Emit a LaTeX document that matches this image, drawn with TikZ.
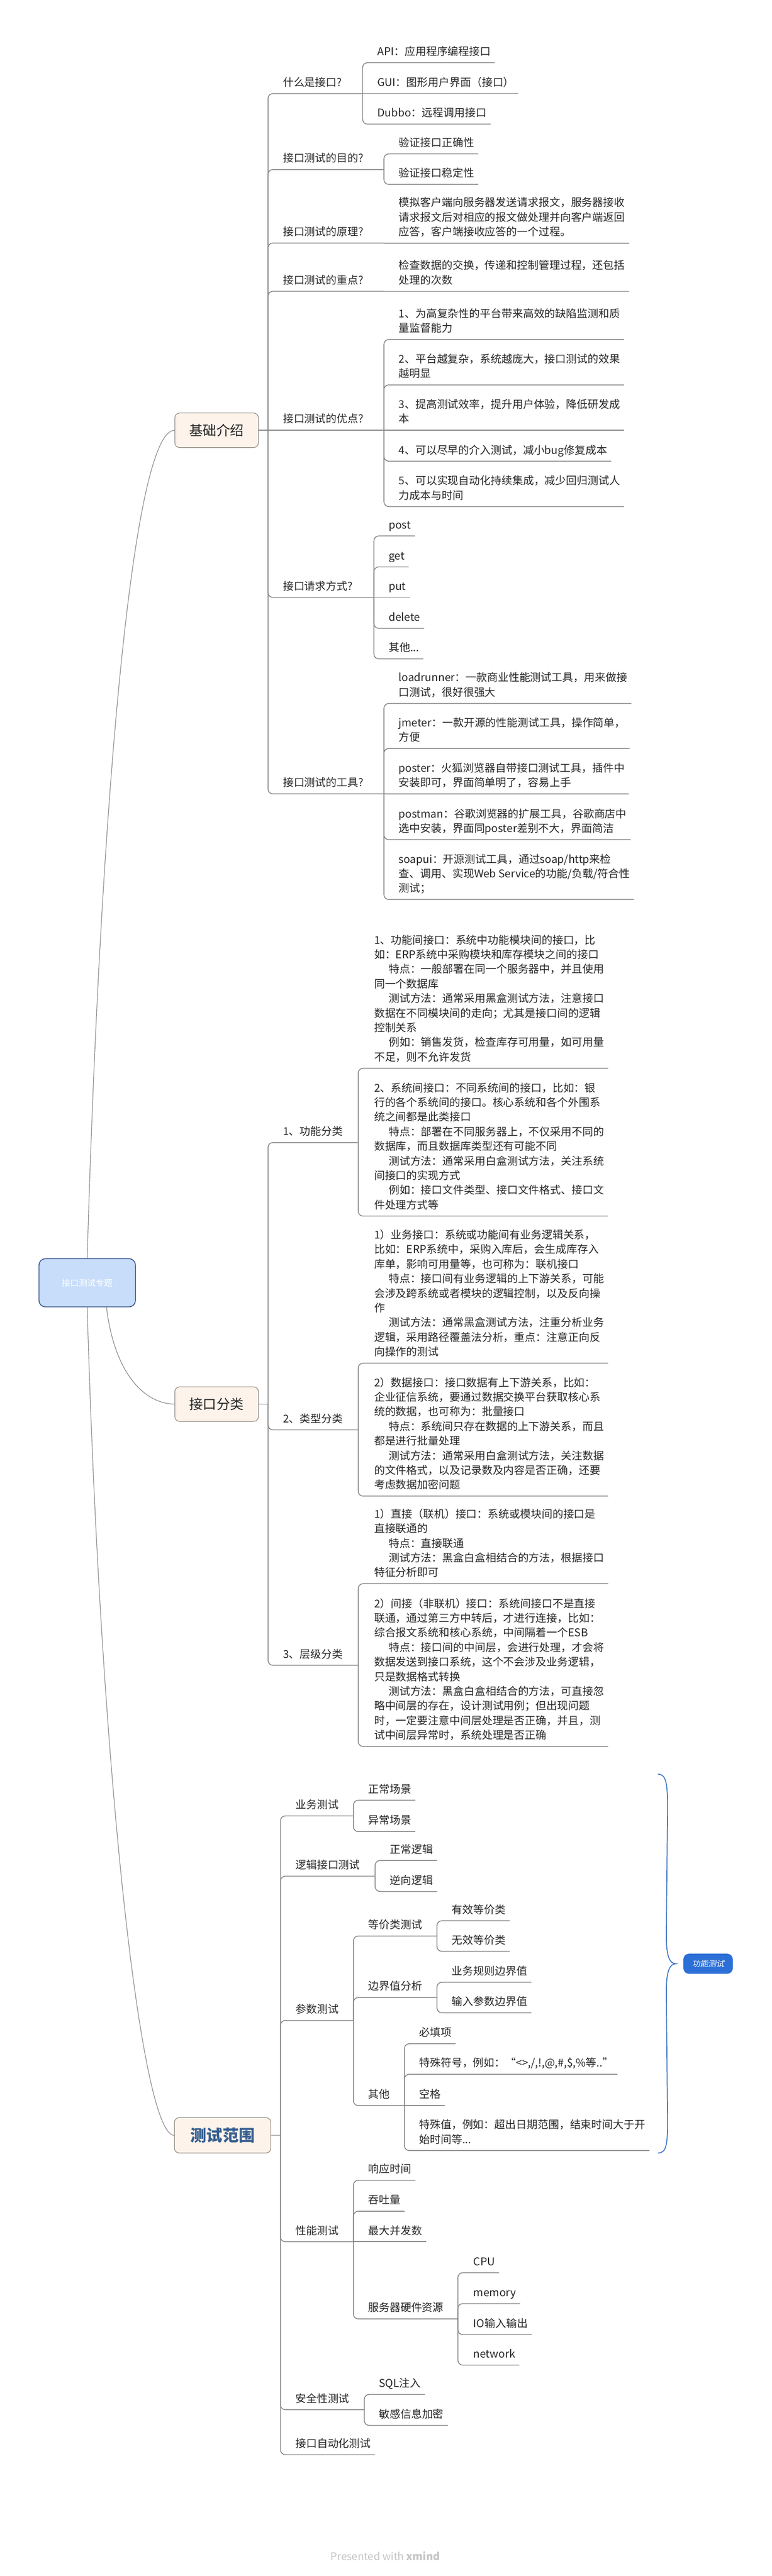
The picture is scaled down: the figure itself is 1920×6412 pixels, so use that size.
\documentclass[tikz,border=0pt]{standalone}
\usepackage{fontspec}
\setmainfont{Noto Sans CJK SC}
\newfontfamily\slantfont[FakeSlant=0.2]{Noto Sans CJK SC}
\usetikzlibrary{calc}
\definecolor{boxfill}{HTML}{FDF3EA}
\definecolor{boxline}{HTML}{8C8580}
\definecolor{rootfill}{HTML}{C7DDFA}
\definecolor{rootline}{HTML}{34518C}
\definecolor{funcblue}{HTML}{2C6FD6}
\definecolor{braceblue}{HTML}{3A72C4}
\definecolor{scopeblue}{HTML}{355E90}
\definecolor{linegray}{HTML}{858585}
\definecolor{textgray}{HTML}{262626}
\definecolor{footgray}{HTML}{C4C4C4}
\newcommand{\indentsp}{\hspace*{36pt}}
\newcommand{\topicsize}{\fontsize{26.8pt}{36.4pt}\selectfont}
\newcommand{\boxsize}{\fontsize{34pt}{40pt}\selectfont}
\tikzstyle{topic}=[anchor=south west, inner xsep=10pt, inner ysep=0pt, text depth=18pt, align=left, font=\topicsize, text=textgray]
\tikzstyle{mainbox}=[draw=boxline, fill=boxfill, line width=1.5pt, rounded corners=12pt, minimum width=208pt, minimum height=86pt, font=\boxsize, text=textgray]
\tikzstyle{rootbox}=[draw=rootline, fill=rootfill, line width=2pt, rounded corners=16pt, minimum width=240pt, minimum height=120pt, font=\fontsize{21pt}{24pt}\selectfont, text=white]
\tikzstyle{funcbox}=[fill=funcblue, rounded corners=14pt, minimum width=123pt, minimum height=50pt, font=\slantfont\fontsize{20pt}{24pt}\selectfont, text=white]
\tikzstyle{branch}=[draw=linegray, line width=2pt, rounded corners=12pt]
\tikzstyle{curve}=[draw=linegray, line width=1.5pt]
\tikzstyle{brace}=[draw=braceblue, line width=2.2pt]

\begin{document}
\begin{tikzpicture}[x=1pt, y=-1pt]
  \useasboundingbox (0,0) rectangle (1920,6412);

  \node[rootbox] (root) at (217,3193) {接口测试专题};
  \node[mainbox] (basic) at (539,1071) {基础介绍};
  \node[mainbox] (cls) at (539,3495) {接口分类};
  \node[mainbox, minimum width=240pt, minimum height=88pt, font=\fontsize{40pt}{44pt}\selectfont\bfseries, text=scopeblue] (scope) at (554,5315) {测试范围};
  \node[funcbox] (func) at (1762,4888) {功能测试};

  \coordinate (bb) at (667,1071);
  \coordinate (cb) at (667,3495);
  \coordinate (sb) at (698,5315);

  % basic
  \node[topic, text width=188pt] (q1) at (694,233) {什么是接口?};
  \node[topic, text width=241pt] (q2) at (694,422) {接口测试的目的?};
  \node[topic, text width=241pt] (q3) at (694,605) {接口测试的原理?};
  \node[topic, text width=241pt] (q4) at (694,725) {接口测试的重点?};
  \node[topic, text width=241pt] (q5) at (694,1071) {接口测试的优点?};
  \node[topic, text width=216pt] (q6) at (694,1487) {接口请求方式?};
  \node[topic, text width=241pt] (q7) at (694,1976) {接口测试的工具?};

  \node[topic] (api) at (929,156) {API：应用程序编程接口};
  \node[topic] (gui) at (929,233) {GUI：图形用户界面（接口）};
  \node[topic] (dubbo) at (929,309) {Dubbo：远程调用接口};
  \node[topic] (ok1) at (982,383) {验证接口正确性};
  \node[topic] (ok2) at (982,459) {验证接口稳定性};
  \node[topic] (theory) at (982,605) {模拟客户端向服务器发送请求报文，服务器接收\\请求报文后对相应的报文做处理并向客户端返回\\应答，客户端接收应答的一个过程。};
  \node[topic] (focus) at (982,725) {检查数据的交换，传递和控制管理过程，还包括\\处理的次数};
  \node[topic] (adv1) at (982,845) {1、为高复杂性的平台带来高效的缺陷监测和质\\量监督能力};
  \node[topic] (adv2) at (982,958) {2、平台越复杂，系统越庞大，接口测试的效果\\越明显};
  \node[topic] (adv3) at (982,1071) {3、提高测试效率，提升用户体验，降低研发成\\本};
  \node[topic] (adv4) at (982,1148) {4、可以尽早的介入测试，减小bug修复成本};
  \node[topic] (adv5) at (982,1261) {5、可以实现自动化持续集成，减少回归测试人\\力成本与时间};
  \node[topic] (post) at (957,1334) {post};
  \node[topic] (get) at (957,1411) {get};
  \node[topic] (put) at (957,1487) {put};
  \node[topic] (del) at (957,1564) {delete};
  \node[topic] (etc) at (957,1640) {其他...};
  \node[topic] (tool1) at (982,1751) {loadrunner：一款商业性能测试工具，用来做接\\口测试，很好很强大};
  \node[topic] (tool2) at (982,1863) {jmeter：一款开源的性能测试工具，操作简单，\\方便};
  \node[topic] (tool3) at (982,1976) {poster：火狐浏览器自带接口测试工具，插件中\\安装即可，界面简单明了，容易上手};
  \node[topic] (tool4) at (982,2090) {postman：谷歌浏览器的扩展工具，谷歌商店中\\选中安装，界面同poster差别不大，界面简洁};
  \node[topic] (tool5) at (982,2239) {soapui：开源测试工具，通过soap/http来检\\查、调用、实现Web Service的功能/负载/符合性\\测试；};

  % cls
  \node[topic, text width=177pt] (c1) at (694,2844) {1、功能分类};
  \node[topic, text width=177pt] (c2) at (694,3559) {2、类型分类};
  \node[topic, text width=177pt] (c3) at (694,4145) {3、层级分类};

  \node[topic] (f1) at (921,2659) {1、功能间接口：系统中功能模块间的接口，比\\如：ERP系统中采购模块和库存模块之间的接口\\\indentsp 特点：一般部署在同一个服务器中，并且使用\\同一个数据库\\\indentsp 测试方法：通常采用黑盒测试方法，注意接口\\数据在不同模块间的走向；尤其是接口间的逻辑\\控制关系\\\indentsp 例如：销售发货，检查库存可用量，如可用量\\不足，则不允许发货};
  \node[topic] (f2) at (921,3027) {2、系统间接口：不同系统间的接口，比如：银\\行的各个系统间的接口。核心系统和各个外围系\\统之间都是此类接口\\\indentsp 特点：部署在不同服务器上，不仅采用不同的\\数据库，而且数据库类型还有可能不同\\\indentsp 测试方法：通常采用白盒测试方法，关注系统\\间接口的实现方式\\\indentsp 例如：接口文件类型、接口文件格式、接口文\\件处理方式等};
  \node[topic] (t1) at (921,3393) {1）业务接口：系统或功能间有业务逻辑关系，\\比如：ERP系统中，采购入库后，会生成库存入\\库单，影响可用量等，也可称为：联机接口\\\indentsp 特点：接口间有业务逻辑的上下游关系，可能\\会涉及跨系统或者模块的逻辑控制，以及反向操\\作\\\indentsp 测试方法：通常黑盒测试方法，注重分析业务\\逻辑，采用路径覆盖法分析，重点：注意正向反\\向操作的测试};
  \node[topic] (t2) at (921,3724) {2）数据接口：接口数据有上下游关系，比如：\\企业征信系统，要通过数据交换平台获取核心系\\统的数据，也可称为：批量接口\\\indentsp 特点：系统间只存在数据的上下游关系，而且\\都是进行批量处理\\\indentsp 测试方法：通常采用白盒测试方法，关注数据\\的文件格式，以及记录数及内容是否正确，还要\\考虑数据加密问题};
  \node[topic] (l1) at (921,3942) {1）直接（联机）接口：系统或模块间的接口是\\直接联通的\\\indentsp 特点：直接联通\\\indentsp 测试方法：黑盒白盒相结合的方法，根据接口\\特征分析即可};
  \node[topic] (l2) at (921,4347) {2）间接（非联机）接口：系统间接口不是直接\\联通，通过第三方中转后，才进行连接，比如：\\综合报文系统和核心系统，中间隔着一个ESB\\\indentsp 特点：接口间的中间层，会进行处理，才会将\\数据发送到接口系统，这个不会涉及业务逻辑，\\只是数据格式转换\\\indentsp 测试方法：黑盒白盒相结合的方法，可直接忽\\略中间层的存在，设计测试用例；但出现问题\\时，一定要注意中间层处理是否正确，并且，测\\试中间层异常时，系统处理是否正确};

  % scope
  \node[topic, text width=134pt] (s1) at (725,4520) {业务测试};
  \node[topic, text width=188pt] (s2) at (725,4670) {逻辑接口测试};
  \node[topic, text width=134pt] (s3) at (725,5029) {参数测试};
  \node[topic, text width=134pt] (s4) at (725,5580) {性能测试};
  \node[topic, text width=161pt] (s5) at (725,5998) {安全性测试};
  \node[topic] (s6) at (725,6110) {接口自动化测试};

  \node[topic] (sc1) at (906,4481) {正常场景};
  \node[topic] (sc2) at (906,4559) {异常场景};
  \node[topic] (lg1) at (960,4631) {正常逻辑};
  \node[topic] (lg2) at (960,4708) {逆向逻辑};
  \node[topic, text width=161pt] (p1) at (906,4819) {等价类测试};
  \node[topic, text width=161pt] (p2) at (906,4972) {边界值分析};
  \node[topic, text width=80pt] (p3) at (906,5241) {其他};
  \node[topic] (eq1) at (1114,4781) {有效等价类};
  \node[topic] (eq2) at (1114,4857) {无效等价类};
  \node[topic] (bd1) at (1114,4934) {业务规则边界值};
  \node[topic] (bd2) at (1114,5010) {输入参数边界值};
  \node[topic] (ot1) at (1033,5087) {必填项};
  \node[topic] (ot2) at (1033,5163) {特殊符号，例如：“<>,/,!,@,\#,\$,\%等..”};
  \node[topic] (ot3) at (1033,5241) {空格};
  \node[topic] (ot4) at (1033,5353) {特殊值，例如：超出日期范围，结束时间大于开\\始时间等...};
  \node[topic] (pf1) at (906,5427) {响应时间};
  \node[topic] (pf2) at (906,5504) {吞吐量};
  \node[topic] (pf3) at (906,5580) {最大并发数};
  \node[topic, text width=213pt] (hw) at (906,5772) {服务器硬件资源};
  \node[topic] (hw1) at (1168,5657) {CPU};
  \node[topic] (hw2) at (1168,5734) {memory};
  \node[topic] (hw3) at (1168,5811) {IO输入输出};
  \node[topic] (hw4) at (1168,5887) {network};
  \node[topic] (sec1) at (933,5960) {SQL注入};
  \node[topic] (sec2) at (933,6037) {敏感信息加密};

  % main curves
  \draw[curve] (root.north) .. controls (250,2000) and (330,1071) .. (basic.west);
  \draw[curve] ($(root.south)+(48,0)$) .. controls (285,3420) and (360,3494) .. (cls.west);
  \draw[curve] (root.south) .. controls (250,4400) and (350,5315) .. (scope.west);

  % branches
  \draw[branch] (basic.east) -- (bb);
  \draw[branch] (cls.east) -- (cb);
  \draw[branch] (scope.east) -- (sb);
  \draw[branch] (bb) -- (q5.south east);
  \foreach \c in {q1,q2,q3,q4,q6,q7}
    \draw[branch] (bb) |- (\c.south east);
  \foreach \c in {c1,c2,c3}
    \draw[branch] (cb) |- (\c.south east);
  \foreach \c in {s1,s2,s3,s4,s5,s6}
    \draw[branch] (sb) |- (\c.south east);

  \foreach \p/\c in {q1/api, q1/dubbo, q2/ok1, q2/ok2, q5/adv1, q5/adv2, q5/adv4, q5/adv5,
    q6/post, q6/get, q6/del, q6/etc, q7/tool1, q7/tool2, q7/tool4, q7/tool5,
    c1/f1, c1/f2, c2/t1, c2/t2, c3/l1, c3/l2,
    s1/sc1, s1/sc2, s2/lg1, s2/lg2, s3/p1, s3/p2, s3/p3, p1/eq1, p1/eq2, p2/bd1, p2/bd2,
    p3/ot1, p3/ot2, p3/ot4, s4/pf1, s4/pf2, s4/hw, hw/hw1, hw/hw2, hw/hw3, hw/hw4,
    s5/sec1, s5/sec2}
    \draw[branch] (\p.south east) |- (\c.south east);
  \foreach \p/\c in {q1/gui, q3/theory, q4/focus, q5/adv3, q6/put, q7/tool3, p3/ot3, s4/pf3}
    \draw[branch] (\p.south east) -- (\c.south east);

  % brace to func
  \coordinate (brtop) at (1637,4416);
  \coordinate (brtip) at (1682,4888);
  \coordinate (brbot) at (1637,5359);
  \draw[brace] (brtop) .. controls (1658,4416) and (1661,4440) .. (1661,4500) -- (1658,4820)
    .. controls (1658,4868) and (1666,4888) .. (brtip)
    .. controls (1666,4888) and (1658,4908) .. (1658,4956) -- (1661,5280)
    .. controls (1661,5340) and (1658,5359) .. (brbot);

  \node[font=\fontsize{26pt}{30pt}\selectfont, text=footgray] (credit) at (959,6362) {Presented with \textbf{xmind}};
\end{tikzpicture}
\end{document}
